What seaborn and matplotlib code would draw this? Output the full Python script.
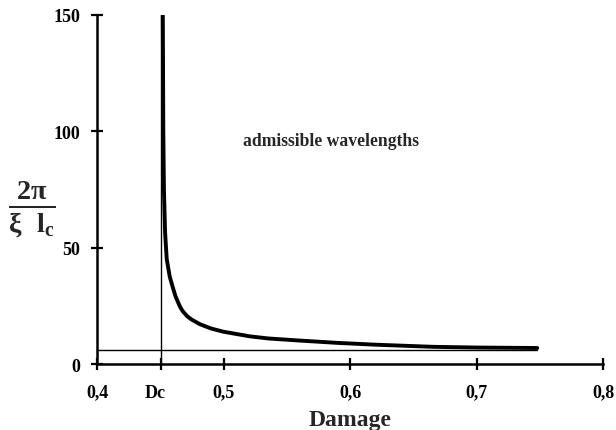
import matplotlib
matplotlib.use("Agg")
import matplotlib.pyplot as plt
import matplotlib.transforms as mtransforms
import pandas as pd
import seaborn as sns

# values
damage = [0.452, 0.4524, 0.4529, 0.4538, 0.4551, 0.4575, 0.4603, 0.4620, 0.4640, 0.4660,
          0.4682, 0.4712, 0.4745, 0.4814, 0.4900, 0.4998, 0.5209, 0.5354, 0.560, 0.590,
          0.621, 0.666, 0.700, 0.748]
wavenumber = [150, 100, 75, 56.6, 45.1, 37.5, 32.2, 29.2, 26.6, 24.2,
              22.4, 20.6, 19.2, 17.1, 15.3, 13.9, 11.9, 11.0, 10.1, 9.1,
              8.3, 7.4, 7.1, 6.9]
dc = 0.4506
floor_x = [0.4, 0.748]
floor_y = [6.1, 6.1]
xticks = [0.4, dc, 0.5, 0.6, 0.7, 0.8]
xtick_labels = ["0,4", "Dc", "0,5", "0,6", "0,7", "0,8"]
yticks = [0, 50, 100, 150]

sns.set_theme(style="ticks")
plt.rcParams.update({
    "font.family": ["Liberation Serif", "DejaVu Serif"],
    "font.weight": "bold",
    "mathtext.fontset": "custom",
    "mathtext.rm": "Liberation Serif:bold",
    "mathtext.it": "Liberation Serif:bold",
    "mathtext.bf": "Liberation Serif:bold",
})

df = pd.DataFrame({"damage": damage, "k": wavenumber})

fig = plt.figure(figsize=(6.16, 4.31), dpi=100)
ax = fig.add_axes([0.1575, 0.153, 0.8215, 0.81])

sns.lineplot(data=df, x="damage", y="k", color="black", linewidth=2.8,
             sort=False, ax=ax)
ax.plot([dc, dc], [0, 150], color="black", linewidth=1.0)
ax.plot(floor_x, floor_y, color="black", linewidth=1.0)

ax.set_xlim(0.4, 0.8)
ax.set_ylim(0, 150)
ax.set_xticks(xticks)
ax.set_xticklabels(xtick_labels)
ax.set_yticks(yticks)
ax.tick_params(axis="both", direction="inout", length=8, width=1.6,
               colors="black", labelsize=13)
ax.tick_params(axis="x", pad=10)
ax.tick_params(axis="y", pad=8)
for lab in ax.get_xticklabels() + ax.get_yticklabels():
    lab.set_fontweight("bold")
# Dc label sits a little left of its line
dc_lab = ax.get_xticklabels()[1]
dc_lab.set_transform(dc_lab.get_transform()
                     + mtransforms.ScaledTranslation(-6 / 100, 0, fig.dpi_scale_trans))

sns.despine(ax=ax)
for side in ["left", "bottom"]:
    ax.spines[side].set_linewidth(1.8)
    ax.spines[side].set_color("black")

ax.set_xlabel("Damage", fontsize=17, fontweight="bold", labelpad=6)
ax.set_ylabel("")
fig.text(0.051, 0.515, r"$\frac{2\pi}{\xi\ \ l_c}$", fontsize=29,
         ha="center", va="center")

ax.text(0.585, 96, "admissible wavelengths", fontsize=12.7,
        fontweight="bold", ha="center", va="center")

fig.savefig("out.png", dpi=100)
